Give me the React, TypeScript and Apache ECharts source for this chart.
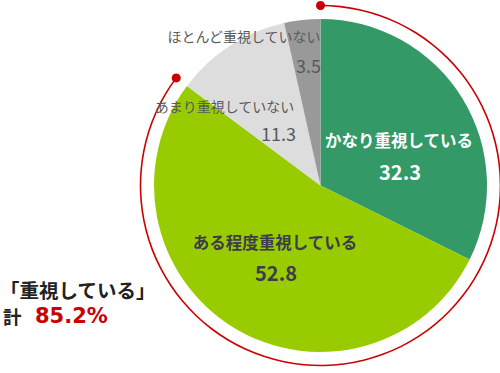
import React, { useEffect, useRef } from "react";
import * as echarts from "echarts";

const categories = ["かなり重視している", "ある程度重視している", "あまり重視していない", "ほとんど重視していない"];
const values = [32.3, 52.8, 11.3, 3.5];
const colors = ["#339966", "#99CC00", "#DDDDDD", "#999999"];
const totalLabel = "「重視している」";
const totalValue = 85.2;

export default function App() {
  const ref = useRef<HTMLDivElement>(null);
  useEffect(() => {
    if (!ref.current) return;
    const chart = echarts.init(ref.current, undefined, { renderer: "svg" });
    const cx = 320.5, cy = 185.5, R = 166.5, RA = 180;
    const jp = "'Noto Sans CJK JP', sans-serif";
    const ang = (totalValue / 100) * 2 * Math.PI;
    const endX = cx + RA * Math.sin(ang);
    const endY = cy - RA * Math.cos(ang);
    const t = (x: number, y: number, text: string, fill: string, font: string, align: string, lh?: number) => ({
      type: "text", x, y, z: 100,
      style: { text, fill, font, textAlign: align, textVerticalAlign: "middle", ...(lh ? { lineHeight: lh } : {}) },
    });
    chart.setOption({
      animation: false,
      series: [
        {
          type: "pie",
          center: [cx, cy],
          radius: [0, R],
          startAngle: 90,
          clockwise: true,
          label: { show: false },
          labelLine: { show: false },
          emphasis: { disabled: true },
          itemStyle: { borderWidth: 0 },
          data: categories.map((c, i) => ({ name: c, value: values[i], itemStyle: { color: colors[i] } })),
        },
        {
          type: "pie",
          center: [cx, cy],
          radius: [RA - 0.8, RA + 0.8],
          startAngle: 90,
          clockwise: true,
          silent: true,
          label: { show: false },
          labelLine: { show: false },
          data: [
            { value: totalValue, itemStyle: { color: "#CC0000" } },
            { value: 100 - totalValue, itemStyle: { color: "rgba(0,0,0,0)" } },
          ],
        },
      ],
      graphic: [
        { type: "circle", z: 100, shape: { cx: cx, cy: cy - RA, r: 4.5 }, style: { fill: "#CC0000" } },
        { type: "circle", z: 100, shape: { cx: endX, cy: endY, r: 4.5 }, style: { fill: "#CC0000" } },
        t(399, 140, categories[0], "#fff", `bold 16.5px ${jp}`, "center"),
        t(400, 171, values[0].toFixed(1), "#fff", `bold 20px ${jp}`, "center"),
        t(275, 242, categories[1], "#3c3c4a", `bold 16.5px ${jp}`, "center"),
        t(276, 272, values[1].toFixed(1), "#3c3c4a", `bold 20px ${jp}`, "center"),
        t(224.5, 106, categories[2], "#595959", `14px ${jp}`, "center"),
        t(296, 132.5, values[2].toFixed(1), "#595959", `18px ${jp}`, "right"),
        t(244, 36, categories[3], "#595959", `14px ${jp}`, "center"),
        t(321, 65, values[3].toFixed(1), "#595959", `18px ${jp}`, "right"),
        t(0, 289, totalLabel, "#222", `bold 19.5px ${jp}`, "left", 19.5),
        t(3, 316, "計", "#222", `bold 18.5px ${jp}`, "left", 18.5),
        t(35, 316, `${totalValue.toFixed(1)}%`, "#CC0000", "bold 21px 'DejaVu Sans', sans-serif", "left", 21),
      ],
    });
    return () => chart.dispose();
  }, []);
  return <div ref={ref} style={{ position: "fixed", left: 0, top: 0, width: 500, height: 373, background: "#fff" }} />;
}
